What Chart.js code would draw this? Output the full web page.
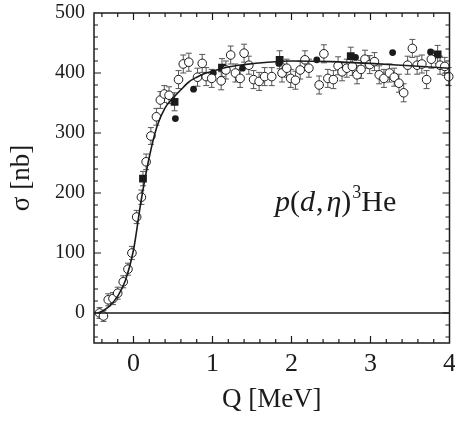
<!DOCTYPE html>
<html lang="en">
<head>
    <meta charset="UTF-8">
    <title>p(d,eta)3He cross section</title>
    <script src="https://cdn.jsdelivr.net/npm/chart.js"></script>
    <style>
        body { margin: 0; background: #fff; }
        #xsChart { display: block; }
    </style>
</head>
<body>
    <canvas id="xsChart" width="455" height="423"></canvas>

    <script>
        // open circles: Q [MeV], sigma [nb], error [nb]
        const openQ = [-0.43, -0.38, -0.32, -0.26, -0.20, -0.13, -0.07, -0.02, 0.04, 0.10, 0.16, 0.22, 0.29, 0.34, 0.39, 0.45,
            0.57, 0.63, 0.70, 0.81, 0.87, 0.92, 0.99, 1.11, 1.17, 1.23, 1.29, 1.35, 1.40, 1.46, 1.52, 1.59, 1.66, 1.75,
            1.88, 1.94, 1.99, 2.05, 2.11, 2.17, 2.22, 2.35, 2.41, 2.46, 2.53, 2.59, 2.64, 2.70, 2.77, 2.83, 2.88, 2.93,
            2.99, 3.05, 3.11, 3.17, 3.24, 3.30, 3.36, 3.42, 3.47, 3.53, 3.59, 3.65, 3.71, 3.77, 3.88, 3.94, 3.99];
        const openSigma = [0, -5, 22, 24, 33, 52, 73, 100, 160, 193, 252, 295, 327, 355, 365, 363,
            389, 415, 418, 393, 416, 394, 391, 387, 405, 430, 400, 391, 433, 413, 389, 386, 394, 394,
            400, 408, 391, 388, 405, 422, 408, 380, 432, 391, 389, 412, 402, 408, 411, 397, 406, 423,
            414, 419, 397, 391, 400, 393, 383, 367, 413, 441, 413, 415, 389, 423, 413, 411, 394];
        const openErr = [9, 9, 10, 10, 10, 10, 10, 11, 11, 12, 13, 14, 14, 14, 14, 14,
            15, 15, 15, 15, 15, 15, 15, 15, 15, 15, 15, 15, 15, 15, 15, 15, 15, 15,
            15, 15, 15, 15, 15, 15, 15, 15, 15, 15, 15, 15, 15, 15, 15, 15, 15, 15,
            15, 15, 15, 15, 15, 15, 15, 15, 15, 15, 15, 15, 15, 15, 15, 15, 15];

        // filled circles (no error bars)
        const dotQ = [0.53, 0.76, 1.01, 1.38, 1.84, 2.32, 2.81, 3.28, 3.76];
        const dotSigma = [324, 373, 400, 408, 416, 422, 426, 434, 435];

        // filled squares
        const squareQ = [0.12, 0.52, 1.12, 1.85, 2.75, 3.85];
        const squareSigma = [224, 352, 409, 422, 428, 431];
        const squareErr = [12, 15, 15, 15, 15, 15];

        // fit curve
        const fitQ = [-0.45, -0.4, -0.3, -0.2, -0.1, 0, 0.1, 0.2, 0.3, 0.4, 0.5, 0.6, 0.7, 0.8, 0.9, 1.0,
            1.2, 1.4, 1.7, 2.0, 2.5, 3.0, 3.5, 4.0];
        const fitSigma = [0, 3, 12, 28, 55, 105, 190, 260, 312, 342, 358, 372, 385, 393, 399, 403,
            410, 414, 418, 420, 419, 416, 412, 408];

        const xTicks = [0, 1, 2, 3, 4];
        const yTicks = [0, 100, 200, 300, 400, 500];

        const serif = '"Liberation Serif", "DejaVu Serif", serif';
        const ink = '#1b1b1b';

        const pts = (xs, ys) => xs.map((x, i) => ({ x: x, y: ys[i] }));

        // error bars under the markers
        const errorBars = {
            id: 'errorBars',
            beforeDatasetsDraw(chart) {
                const c = chart.ctx;
                const xs = chart.scales.x, ys = chart.scales.y;
                c.save();
                c.strokeStyle = '#555';
                c.lineWidth = 1;
                const draw = (qs, ss, es) => qs.forEach((q, i) => {
                    const px = xs.getPixelForValue(q);
                    const y1 = ys.getPixelForValue(ss[i] + es[i]);
                    const y2 = ys.getPixelForValue(ss[i] - es[i]);
                    c.beginPath();
                    c.moveTo(px, y1); c.lineTo(px, y2);
                    c.moveTo(px - 3, y1); c.lineTo(px + 3, y1);
                    c.moveTo(px - 3, y2); c.lineTo(px + 3, y2);
                    c.stroke();
                });
                draw(openQ, openSigma, openErr);
                draw(squareQ, squareSigma, squareErr);
                c.restore();
            }
        };

        // frame with inward ticks on all sides, plus reaction label
        const frame = {
            id: 'frame',
            afterDraw(chart) {
                const c = chart.ctx;
                const a = chart.chartArea;
                const xs = chart.scales.x, ys = chart.scales.y;
                c.save();
                c.strokeStyle = ink;
                c.lineWidth = 1.5;
                c.strokeRect(a.left, a.top, a.right - a.left, a.bottom - a.top);
                c.lineWidth = 1.2;
                c.beginPath();
                for (let i = -2; i <= 20; i++) {
                    const v = i / 5;
                    const px = xs.getPixelForValue(v);
                    if (px <= a.left + 1 || px >= a.right - 1) continue;
                    const len = (i % 5 === 0) ? 7 : 4;
                    c.moveTo(px, a.bottom); c.lineTo(px, a.bottom - len);
                    c.moveTo(px, a.top); c.lineTo(px, a.top + len);
                }
                for (let v = -40; v <= 500; v += 20) {
                    const py = ys.getPixelForValue(v);
                    if (py <= a.top + 1 || py >= a.bottom - 1) continue;
                    const len = (v % 100 === 0) ? 7 : 4;
                    c.moveTo(a.left, py); c.lineTo(a.left + len, py);
                    c.moveTo(a.right, py); c.lineTo(a.right - len, py);
                }
                c.stroke();

                // p(d,η)³He
                c.fillStyle = ink;
                c.textBaseline = 'alphabetic';
                const base = 211;
                let x = 275;
                const parts = [
                    ['italic 30px ' + serif, 'p', 0],
                    ['30px ' + serif, '(', 0],
                    ['italic 30px ' + serif, 'd', 1],
                    ['30px ' + serif, ',', 3],
                    ['italic 30px ' + serif, '\u03b7', 0],
                    ['30px ' + serif, ')', 1],
                    ['18px ' + serif, '3', 0, -13],
                    ['30px ' + serif, 'He', 0]
                ];
                parts.forEach(p => {
                    c.font = p[0];
                    c.fillText(p[1], x, base + (p[3] || 0));
                    x += c.measureText(p[1]).width + p[2];
                });
                c.restore();
            }
        };

        const ctx = document.getElementById('xsChart').getContext('2d');
        const xsChart = new Chart(ctx, {
            type: 'scatter',
            data: {
                datasets: [
                    {
                        label: 'zero',
                        data: [{ x: -0.5, y: 0 }, { x: 4, y: 0 }],
                        showLine: true,
                        borderColor: ink,
                        borderWidth: 1.6,
                        pointRadius: 0
                    },
                    {
                        label: 'fit',
                        data: pts(fitQ, fitSigma),
                        showLine: true,
                        cubicInterpolationMode: 'monotone',
                        borderColor: ink,
                        borderWidth: 1.6,
                        pointRadius: 0
                    },
                    {
                        label: 'open',
                        data: pts(openQ, openSigma),
                        pointStyle: 'circle',
                        pointRadius: 4.3,
                        pointBackgroundColor: '#fff',
                        pointBorderColor: ink,
                        pointBorderWidth: 1,
                        clip: false
                    },
                    {
                        label: 'dots',
                        data: pts(dotQ, dotSigma),
                        pointStyle: 'circle',
                        pointRadius: 3.4,
                        pointBackgroundColor: ink,
                        pointBorderColor: ink,
                        pointBorderWidth: 0
                    },
                    {
                        label: 'squares',
                        data: pts(squareQ, squareSigma),
                        pointStyle: 'rect',
                        pointRadius: 5.5,
                        pointBackgroundColor: ink,
                        pointBorderColor: ink,
                        pointBorderWidth: 0
                    }
                ]
            },
            options: {
                responsive: false,
                animation: false,
                layout: { padding: { top: 13, right: 3, left: 0, bottom: 0 } },
                plugins: {
                    legend: { display: false },
                    tooltip: { enabled: false }
                },
                scales: {
                    x: {
                        type: 'linear',
                        min: -0.5,
                        max: 4,
                        afterBuildTicks: s => { s.ticks = xTicks.map(v => ({ value: v })); },
                        afterFit: s => { s.height = 80; s.paddingLeft = 0; s.paddingRight = 0; },
                        grid: { display: false, drawTicks: false },
                        border: { display: false },
                        ticks: { color: ink, padding: 6, maxRotation: 0, font: { family: serif, size: 26 } },
                        title: {
                            display: true,
                            text: 'Q [MeV]',
                            color: ink,
                            padding: { top: 0, bottom: 7 },
                            font: { family: serif, size: 27 }
                        }
                    },
                    y: {
                        min: -50,
                        max: 500,
                        afterBuildTicks: s => { s.ticks = yTicks.map(v => ({ value: v })); },
                        afterFit: s => { s.width = 94; s.paddingTop = 0; s.paddingBottom = 0; },
                        grid: { display: false, drawTicks: false },
                        border: { display: false },
                        ticks: { color: ink, padding: 9, font: { family: serif, size: 20 } },
                        title: {
                            display: true,
                            text: '\u03c3 [nb]',
                            color: ink,
                            padding: { top: 6, bottom: 0 },
                            font: { family: serif, size: 27 }
                        }
                    }
                }
            },
            plugins: [errorBars, frame]
        });
    </script>
</body>
</html>
